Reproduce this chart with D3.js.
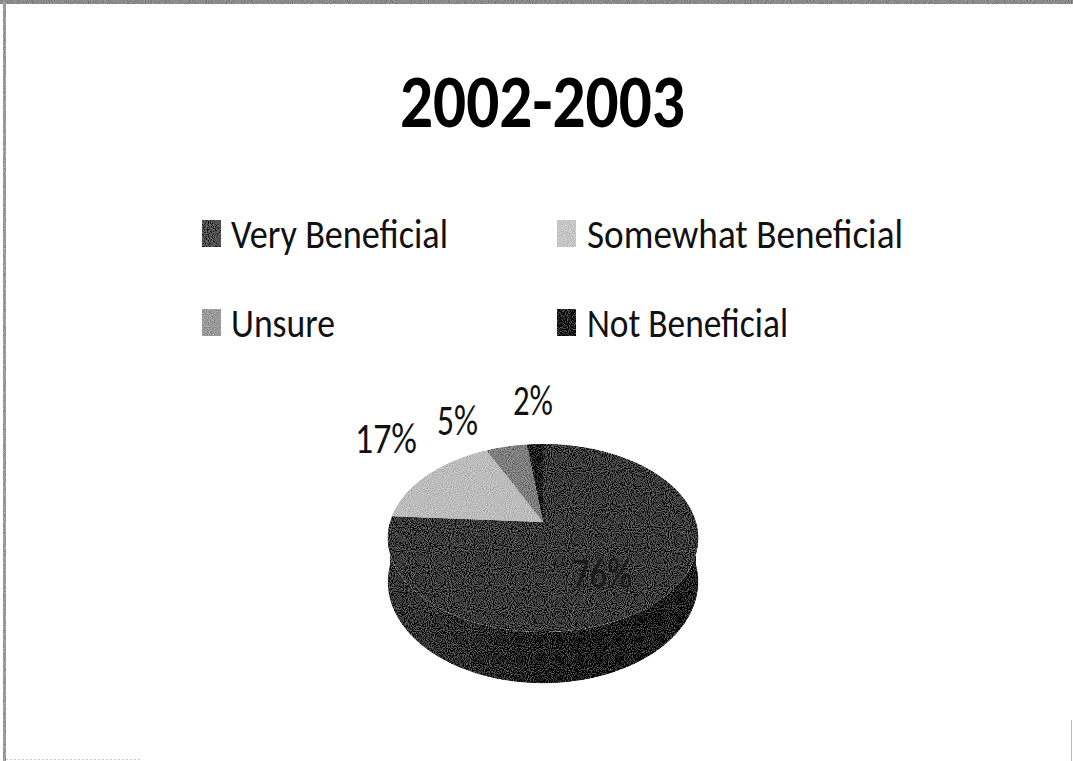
<!DOCTYPE html>
<html><head><meta charset="utf-8">
<script src="https://cdn.jsdelivr.net/npm/d3@7"></script>
<style>html,body{margin:0;padding:0;background:#fff;}svg{display:block;}</style>
</head><body>
<svg id="chart" width="1073" height="761"></svg>
<script>
// ---- data ----
const title = "2002-2003";
const categories = ["Very Beneficial", "Somewhat Beneficial", "Unsure", "Not Beneficial"];
const values = [76, 17, 5, 2];
const labels = ["76%", "17%", "5%", "2%"];
const topColors = ["#3c3c3c", "#bcbcbc", "#7e7e7e", "#0c0c0c"];
const legendColors = ["#505050", "#c6c6c6", "#9a9a9a", "#181818"];

const svg = d3.select("#chart");
const FONT = "Carlito, 'Liberation Sans Narrow', 'Liberation Sans', 'Open Sans', sans-serif";

// noise filter for grainy scan look
const defs = svg.append("defs");
const f = defs.append("filter").attr("id", "grain").attr("x", 0).attr("y", 0).attr("width", 1).attr("height", 1);
f.append("feTurbulence").attr("type", "fractalNoise").attr("baseFrequency", 0.95).attr("numOctaves", 1).attr("seed", 3).attr("result", "n");
f.append("feColorMatrix").attr("in", "n").attr("type", "matrix")
  .attr("values", "1 0 0 0 0  1 0 0 0 0  1 0 0 0 0  0 0 0 0 1").attr("result", "g");
f.append("feComposite").attr("in", "SourceGraphic").attr("in2", "g").attr("operator", "arithmetic")
  .attr("k1", 0).attr("k2", 1).attr("k3", 0.5).attr("k4", -0.25).attr("result", "c");
f.append("feComposite").attr("in", "c").attr("in2", "SourceGraphic").attr("operator", "in");

const sideGrad = defs.append("linearGradient").attr("id", "sideGrad").attr("x1", 0).attr("x2", 1).attr("y1", 0).attr("y2", 0);
sideGrad.append("stop").attr("offset", "0%").attr("stop-color", "#3a3a3a");
sideGrad.append("stop").attr("offset", "25%").attr("stop-color", "#2e2e2e");
sideGrad.append("stop").attr("offset", "55%").attr("stop-color", "#0a0a0a");
sideGrad.append("stop").attr("offset", "100%").attr("stop-color", "#030303");

// frame
svg.append("rect").attr("x", 0).attr("y", 0).attr("width", 1073).attr("height", 4).attr("fill", "#8a8a8a").attr("filter", "url(#grain)");
svg.append("rect").attr("x", 3).attr("y", 0).attr("width", 3).attr("height", 761).attr("fill", "#9a9a9a").attr("filter", "url(#grain)");
svg.append("line").attr("x1", 1071.5).attr("x2", 1071.5).attr("y1", 720).attr("y2", 761).attr("stroke", "#bbb").attr("stroke-width", 1);
svg.append("line").attr("x1", 6).attr("x2", 140).attr("y1", 759.5).attr("y2", 759.5).attr("stroke", "#ccc").attr("stroke-dasharray", "2,2");

// title
svg.append("text").attr("x", 400).attr("y", 127).text(title)
  .attr("font-family", FONT).attr("font-weight", "bold").attr("font-size", 75)
  .attr("textLength", 285).attr("lengthAdjust", "spacingAndGlyphs").attr("fill", "#000");

// legend
const legX = [202, 557], txtX = [231, 587], legY = [248, 337];
const legW = [217, 316, 104, 201];
categories.forEach((c, i) => {
  const col = i % 2, row = Math.floor(i / 2);
  svg.append("rect").attr("x", legX[col]).attr("y", legY[row] - 28).attr("width", 19).attr("height", 27)
    .attr("fill", legendColors[i]).attr("filter", "url(#grain)");
  svg.append("text").attr("x", txtX[col]).attr("y", legY[row]).text(c)
    .attr("font-family", FONT).attr("font-size", 42).attr("fill", "#111")
    .attr("textLength", legW[i]).attr("lengthAdjust", "spacingAndGlyphs");
});

// 3D pie with perspective projection
const cx = 543, cy0 = 522, Rx = 153, Ry = 91.3, k = 0.17, depth = 42.5;
function proj(theta, dz) { // theta clockwise from top (far side)
  const u = Math.sin(theta), v = -Math.cos(theta);
  const w = 1 / (1 - k * v);
  return [cx + Rx * u * w, cy0 + Ry * v * w + (dz ? depth * w : 0)];
}
const apex = [cx, cy0];
const pie = d3.pie().sort(null).value(d => d)(values);
const samples = (a0, a1) => { const n = Math.max(2, Math.ceil((a1 - a0) / 0.01)); return d3.range(n + 1).map(j => a0 + (a1 - a0) * j / n); };
const line = d3.line();

const g = svg.append("g");
// side walls (front half: theta in [PI/2, 3PI/2])
pie.forEach((p, i) => {
  const a0 = Math.max(p.startAngle, Math.PI / 2), a1 = Math.min(p.endAngle, 3 * Math.PI / 2);
  if (a1 <= a0) return;
  const s = samples(a0, a1);
  const pts = s.map(t => proj(t, false)).concat(s.slice().reverse().map(t => proj(t, true)));
  g.append("path").attr("d", line(pts) + "Z").attr("fill", i === 0 ? "url(#sideGrad)" : d3.color(topColors[i]).darker(1.2))
    .attr("filter", "url(#grain)");
});
// top faces
pie.forEach((p, i) => {
  const pts = [apex].concat(samples(p.startAngle, p.endAngle).map(t => proj(t, false)));
  g.append("path").attr("d", line(pts) + "Z").attr("fill", topColors[i]).attr("filter", "url(#grain)");
});

// percentage labels
const lab = [
  {x: 572, y: 588, w: 60, c: "#1a1a1a"},
  {x: 355, y: 453, w: 62, c: "#111"},
  {x: 437, y: 435, w: 41, c: "#111"},
  {x: 513, y: 415, w: 40, c: "#111"}
];
labels.forEach((t, i) => {
  svg.append("text").attr("x", lab[i].x).attr("y", lab[i].y).text(t)
    .attr("font-family", FONT).attr("font-size", 43).attr("fill", lab[i].c)
    .attr("textLength", lab[i].w).attr("lengthAdjust", "spacingAndGlyphs");
});
</script>
</body></html>
